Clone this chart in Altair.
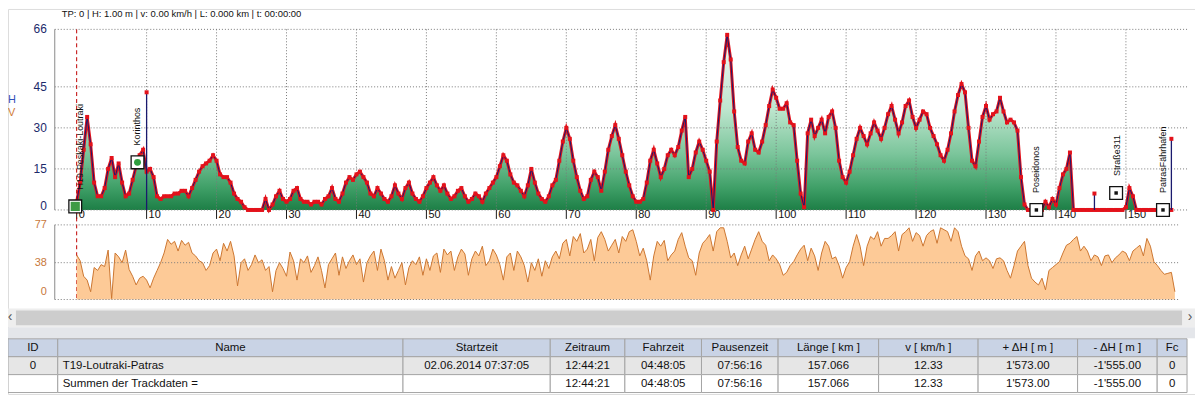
import altair as alt
import numpy as np
import pandas as pd

# ---------------- data ----------------
TOP_TEXT = "TP: 0 | H: 1.00 m | v: 0.00 km/h | L: 0.000 km | t: 00:00:00"

STEP_KM = 0.5
# elevation [m], every 0.5 km from km 0
ELEV = [
    3, 10, 22, 34, 24, 10, 5, 5, 8, 15, 19, 12, 17, 10, 5, 6, 11, 16, 20, 22,
    14, 15, 12, 5, 4, 5, 5, 5, 6, 6, 7, 7, 5, 8, 11, 14, 16, 17, 18, 20,
    18, 13, 12, 12, 10, 6, 4, 3, 1, 0, 0, 0, 0, 0, 4, 0, 2, 5, 7, 4,
    3, 4, 7, 8, 4, 3, 3, 2, 3, 3, 2, 4, 5, 8, 4, 3, 6, 10, 12, 11,
    13, 14, 12, 10, 6, 5, 8, 6, 4, 3, 5, 9, 6, 4, 8, 10, 6, 4, 3, 5,
    8, 10, 12, 9, 7, 9, 6, 4, 5, 7, 8, 5, 3, 4, 6, 5, 3, 6, 8, 10,
    12, 16, 20, 18, 13, 10, 9, 7, 5, 9, 15, 10, 6, 4, 3, 5, 9, 11, 18, 25,
    30, 26, 18, 12, 7, 4, 5, 11, 14, 12, 7, 14, 22, 27, 31, 26, 20, 14, 9, 5,
    3, 3, 4, 10, 18, 22, 17, 12, 15, 20, 22, 20, 23, 29, 34, 12, 15, 21, 25, 22,
    18, 14, 0, 25, 40, 54, 64, 55, 36, 23, 18, 17, 25, 28, 22, 21, 25, 31, 38, 44,
    41, 37, 37, 39, 32, 31, 18, 6, 1, 28, 33, 27, 30, 33, 28, 34, 36, 30, 18, 12,
    10, 14, 20, 26, 30, 27, 24, 28, 32, 29, 26, 30, 35, 38, 33, 28, 32, 38, 40, 34,
    30, 33, 36, 35, 30, 27, 24, 20, 18, 22, 28, 36, 42, 46, 43, 30, 18, 16, 25, 34,
    38, 33, 35, 36, 41, 36, 32, 33, 32, 29, 12, 2, 0, 0, 0, 0, 0, 3, 1, 4,
    2, 8, 13, 15, 21, 0, 0, 0, 0, 0, 0, 0, 0, 0, 0, 0, 0, 0, 0, 0,
    1, 8, 5, 0, 0, 0, 0, 0, 0, 0, 0, 0, 0, 0,
]
# isolated spikes of the elevation track
SPIKE_KM = [10.0, 145.5, 156.5]
SPIKE_H = [43, 6, 26]

# speed [km/h], every 0.5 km from km 0
SPEED = [
    46, 40, 24, 20, 8, 33, 30, 36, 34, 51, 1, 48, 44, 38, 51, 31, 24, 15, 22, 24,
    20, 12, 22, 30, 38, 48, 62, 57, 60, 50, 61, 56, 59, 48, 45, 40, 38, 30, 35, 48,
    52, 40, 58, 50, 60, 45, 14, 38, 42, 30, 36, 46, 38, 41, 30, 34, 8, 30, 38, 32,
    24, 49, 40, 20, 42, 38, 45, 28, 35, 44, 30, 12, 36, 42, 48, 25, 44, 32, 40, 46,
    36, 42, 18, 38, 45, 50, 30, 52, 40, 20, 34, 22, 30, 38, 15, 33, 40, 36, 44, 25,
    42, 30, 45, 48, 28, 52, 46, 50, 30, 44, 52, 47, 25, 42, 50, 45, 55, 35, 40, 52,
    46, 36, 20, 44, 48, 30, 50, 44, 35, 18, 38, 30, 42, 24, 40, 32, 44, 50, 42, 58,
    62, 45, 65, 60, 68, 48, 52, 62, 40, 64, 70, 62, 50, 56, 62, 48, 65, 60, 70, 72,
    60, 45, 53, 40, 20, 45, 60, 55, 61, 40, 46, 50, 62, 69, 55, 43, 40, 25, 48, 58,
    62, 67, 50, 70, 74, 74, 60, 43, 48, 35, 46, 55, 42, 52, 62, 70, 60, 56, 40, 46,
    42, 36, 25, 28, 35, 39, 46, 52, 56, 40, 53, 45, 30, 48, 60, 55, 42, 44, 35, 22,
    33, 39, 55, 67, 55, 35, 55, 65, 62, 70, 55, 63, 63, 66, 70, 50, 67, 70, 74, 60,
    69, 66, 55, 66, 70, 72, 58, 74, 72, 70, 60, 74, 70, 55, 45, 42, 30, 45, 50, 40,
    43, 40, 32, 42, 43, 40, 30, 22, 35, 50, 55, 60, 35, 22, 18, 15, 22, 10, 30, 33,
    36, 39, 48, 56, 58, 62, 65, 50, 55, 50, 40, 46, 44, 35, 45, 46, 38, 43, 46, 50,
    48, 40, 50, 53, 56, 45, 63, 55, 39, 35, 30, 26, 27, 28, 8,
]

# waypoints
WP_NAME = ["H19-Peskaki-Loutraki", "Korinthos", "Poseidonos", "Straße311", "PatrasFährhafen"]
WP_KM = [-0.2, 8.7, 137.2, 148.6, 155.3]
WP_H = [1.3, 17.4, 0.0, 6.2, 0.0]
WP_KIND = ["start", "dot", "stop", "stop", "stop"]
LABEL_KM = [0.43, 8.58, 137.2, 148.7, 155.3]

ELEV_TICKS = [0, 15, 30, 45, 66]
SPEED_TICKS = [0, 38, 77]
KM_TICKS = list(range(0, 151, 10))

HEADERS = ["ID", "Name", "Startzeit", "Zeitraum", "Fahrzeit", "Pausenzeit",
           "Länge  [ km ]", "v  [ km/h ]", "+ ΔH  [ m ]", "- ΔH  [ m ]", "Fc"]
ROW1 = ["0", "T19-Loutraki-Patras", "02.06.2014 07:37:05", "12:44:21", "04:48:05",
        "07:56:16", "157.066", "12.33", "1'573.00", "-1'555.00", "0"]
ROW2 = ["", "Summen der Trackdaten =", "", "12:44:21", "04:48:05", "07:56:16",
        "157.066", "12.33", "1'573.00", "-1'555.00", "0"]

# ---------------- layout (pixels inside the chart) ----------------
W, H = 1193, 387
X_DOMAIN = [-3.13, 157.6]
X_RANGE = [47, 1177]
YE_RANGE = [202, 20.5]
YV_RANGE = [292, 217]
AXIS_X = 47
COL_EDGES = [0, 50, 397, 545, 620, 697, 774, 875, 975, 1075, 1155, 1185]
ROW_EDGES = [331.5, 349.5, 367.5, 385.5]
ROW_KIND = ["header", "row1", "row2"]

FONT = "Liberation Sans, Arial, sans-serif"
NAVY = "#1a1a6e"
RED = "#e3121b"
GRID = "#7a7a7a"

XS = alt.Scale(domain=X_DOMAIN, range=X_RANGE, nice=False, zero=False)
YE = alt.Scale(domain=[0, 66], range=YE_RANGE, nice=False, zero=False)
YV = alt.Scale(domain=[0, 77], range=YV_RANGE, nice=False, zero=False)


def X(field):
    return alt.X(field, scale=XS, axis=None)


def YEl(field):
    return alt.Y(field, scale=YE, axis=None)


def YSp(field):
    return alt.Y(field, scale=YV, axis=None)


elev_df = pd.DataFrame({"km": np.arange(len(ELEV)) * STEP_KM, "h": ELEV})
speed_df = pd.DataFrame({"km": np.arange(len(SPEED)) * STEP_KM, "v": SPEED})
spike_df = pd.DataFrame({"km": SPIKE_KM, "h": SPIKE_H})
wp_df = pd.DataFrame({"km": WP_KM, "h": WP_H, "kind": WP_KIND, "name": WP_NAME, "lkm": LABEL_KM})
eg_df = pd.DataFrame({"h": ELEV_TICKS, "lab": [str(t) for t in ELEV_TICKS]})
kt_df = pd.DataFrame({"km": KM_TICKS, "lab": [str(t) for t in KM_TICKS]})
sg_df = pd.DataFrame({"v": SPEED_TICKS, "lab": [str(t) for t in SPEED_TICKS]})
zero_df = pd.DataFrame({"km": [0.0]})
one = pd.DataFrame({"a": [0]})

green_grad = alt.Gradient(
    gradient="linear",
    stops=[alt.GradientStop(color="#f2faf5", offset=0),
           alt.GradientStop(color="#bfe6cf", offset=0.42),
           alt.GradientStop(color="#7bc59b", offset=0.68),
           alt.GradientStop(color="#40a068", offset=0.87),
           alt.GradientStop(color="#1d7f46", offset=1)],
    x1=1, x2=1, y1=0, y2=1)

# ---------------- elevation panel ----------------
e_area = alt.Chart(elev_df).mark_area(color=green_grad, interpolate="linear").encode(
    x=X("km:Q"), y=YEl("h:Q"))
e_hgrid = alt.Chart(eg_df).mark_rule(color=GRID, strokeDash=[1, 2], strokeWidth=1).encode(
    y=YEl("h:Q"), x=alt.value(AXIS_X), x2=alt.value(X_RANGE[1] + 8))
e_vgrid = alt.Chart(kt_df[kt_df.km > 0]).mark_rule(color=GRID, strokeDash=[1, 2], strokeWidth=1).encode(
    x=X("km:Q"), y=alt.value(YE_RANGE[1]), y2=alt.value(YE_RANGE[0]))
e_dom = alt.Chart(one).mark_rule(color="#8a8a8a", strokeWidth=1).encode(
    x=alt.value(AXIS_X), y=alt.value(YE_RANGE[1]), y2=alt.value(YE_RANGE[0]))
e_lab = alt.Chart(eg_df[eg_df.h > 0]).mark_text(
    align="right", baseline="middle", fontSize=12, font=FONT, color="#1b2a6b").encode(
    x=alt.value(AXIS_X - 8), y=YEl("h:Q"), text="lab:N")
e_lab0 = alt.Chart(eg_df[eg_df.h == 0]).mark_text(
    align="right", baseline="middle", fontSize=12, font=FONT, color="#1b2a6b", dy=-4).encode(
    x=alt.value(AXIS_X - 8), y=YEl("h:Q"), text="lab:N")
x_ticks = alt.Chart(kt_df).mark_rule(color="#1a1a1a", strokeWidth=1).encode(
    x=X("km:Q"), y=alt.value(YE_RANGE[0]), y2=alt.value(YE_RANGE[0] + 9))
x_labs = alt.Chart(kt_df).mark_text(
    align="left", baseline="middle", dx=2, fontSize=11, font=FONT, color="#111111").encode(
    x=X("km:Q"), y=alt.value(YE_RANGE[0] + 5), text="lab:N")
e_redline = alt.Chart(elev_df).mark_line(color=RED, strokeWidth=3).encode(
    x=X("km:Q"), y=YEl("h:Q"))
e_line = alt.Chart(elev_df).mark_line(color=NAVY, strokeWidth=1).encode(
    x=X("km:Q"), y=YEl("h:Q"))
e_pts = alt.Chart(elev_df).mark_square(color=RED, size=16, opacity=1).encode(
    x=X("km:Q"), y=YEl("h:Q"))
s_rules = alt.Chart(spike_df).mark_rule(color=NAVY, strokeWidth=1.3).encode(
    x=X("km:Q"), y=YEl("h:Q"), y2=alt.Y2(datum=0))
s_pts = alt.Chart(spike_df).mark_square(color=RED, size=16, opacity=1).encode(
    x=X("km:Q"), y=YEl("h:Q"))
red_line = alt.Chart(zero_df).mark_rule(color="#c00000", strokeDash=[4, 3], strokeWidth=1).encode(
    x=X("km:Q"), y=alt.value(YE_RANGE[1]), y2=alt.value(YV_RANGE[0]))
wp_outer = alt.Chart(wp_df).mark_square(size=165, fill="white", stroke="#111111",
                                        strokeWidth=1.3, opacity=1, filled=True).encode(
    x=X("km:Q"), y=YEl("h:Q"))
wp_inner = alt.Chart(wp_df).mark_point(filled=True, opacity=1).encode(
    x=X("km:Q"), y=YEl("h:Q"),
    color=alt.Color("kind:N", scale=alt.Scale(domain=["start", "dot", "stop"],
                                              range=["#3f9b45", "#2e9e3e", "#111111"]), legend=None),
    size=alt.Size("kind:N", scale=alt.Scale(domain=["start", "dot", "stop"], range=[85, 12, 26]), legend=None),
    shape=alt.Shape("kind:N", scale=alt.Scale(domain=["start", "dot", "stop"],
                                              range=["square", "circle", "square"]), legend=None),
)
wp_text = alt.Chart(wp_df).mark_text(angle=270, align="left", baseline="middle", dx=17,
                                     fontSize=9, font=FONT, color="#111111").encode(
    x=alt.X("lkm:Q", scale=XS, axis=None), y=YEl("h:Q"), text="name:N")

elev = alt.layer(e_area, e_hgrid, e_vgrid, e_dom, e_lab, e_lab0, x_ticks, x_labs,
                 e_redline, e_line, e_pts, s_rules, s_pts,
                 red_line, wp_outer, wp_inner, wp_text)

# ---------------- speed panel ----------------
v_area = alt.Chart(speed_df).mark_area(color="#fdca97", opacity=1).encode(
    x=X("km:Q"), y=YSp("v:Q"))
v_grid = alt.Chart(sg_df).mark_rule(color=GRID, strokeDash=[1, 2], strokeWidth=1).encode(
    y=YSp("v:Q"), x=alt.value(AXIS_X), x2=alt.value(X_RANGE[1]))
v_line = alt.Chart(speed_df).mark_line(color="#cc7630", strokeWidth=1).encode(
    x=X("km:Q"), y=YSp("v:Q"))
v_dom = alt.Chart(one).mark_rule(color="#8a8a8a", strokeWidth=1).encode(
    x=alt.value(AXIS_X), y=alt.value(YV_RANGE[1]), y2=alt.value(YV_RANGE[0]))
v_lab = alt.Chart(sg_df[sg_df.v > 0]).mark_text(
    align="right", baseline="middle", fontSize=11, font=FONT, color="#c8783a").encode(
    x=alt.value(AXIS_X - 8), y=YSp("v:Q"), text="lab:N")
v_lab0 = alt.Chart(sg_df[sg_df.v == 0]).mark_text(
    align="right", baseline="middle", fontSize=11, font=FONT, color="#c8783a", dy=-8).encode(
    x=alt.value(AXIS_X - 8), y=YSp("v:Q"), text="lab:N")
speed = alt.layer(v_area, v_grid, v_line, v_dom, v_lab, v_lab0)

# ---------------- misc texts ----------------
top_txt = alt.Chart(pd.DataFrame({"t": [TOP_TEXT]})).mark_text(
    align="left", baseline="middle", fontSize=9.5, font=FONT, color="#111111").encode(
    x=alt.value(54), y=alt.value(5), text="t:N")
hv_lbl = alt.Chart(pd.DataFrame({"t": ["H", "V"], "y": [91, 105], "c": ["H", "V"]})).mark_text(
    align="left", baseline="middle", fontSize=11, font=FONT).encode(
    x=alt.value(0), y=alt.Y("y:Q", scale=None), text="t:N",
    color=alt.Color("c:N", scale=alt.Scale(domain=["H", "V"], range=["#2f50b8", "#d07a35"]), legend=None))

# ---------------- scrollbar ----------------
sb_track = alt.Chart(one).mark_rect(color="#eeeeee").encode(
    x=alt.value(0), x2=alt.value(W), y=alt.value(301), y2=alt.value(320))
sb_thumb = alt.Chart(one).mark_rect(color="#cdcdcd").encode(
    x=alt.value(8), x2=alt.value(1180), y=alt.value(303), y2=alt.value(318))
sb_band = alt.Chart(one).mark_rect(color="#e4e6ea").encode(
    x=alt.value(0), x2=alt.value(W), y=alt.value(320), y2=alt.value(331))
arrows = alt.Chart(pd.DataFrame({"t": ["‹", "›"], "x": [2, 1188]})).mark_text(
    align="center", baseline="middle", fontSize=14, font=FONT, color="#555555").encode(
    x=alt.X("x:Q", scale=None), y=alt.value(310), text="t:N")

# ---------------- table ----------------
cells = []
for r, row in enumerate([HEADERS, ROW1, ROW2]):
    for c, txt in enumerate(row):
        cells.append(dict(x0=COL_EDGES[c], x1=COL_EDGES[c + 1],
                          y0=ROW_EDGES[r], y1=ROW_EDGES[r + 1],
                          xc=(COL_EDGES[c] + COL_EDGES[c + 1]) / 2, xl=COL_EDGES[c] + 5,
                          yc=(ROW_EDGES[r] + ROW_EDGES[r + 1]) / 2,
                          text=txt, kind=ROW_KIND[r], left=bool(c == 1 and r > 0)))
cells_df = pd.DataFrame(cells)

t_rect = alt.Chart(cells_df).mark_rect(stroke="#a4a4a4", strokeWidth=1).encode(
    x=alt.X("x0:Q", scale=None), x2="x1:Q", y=alt.Y("y0:Q", scale=None), y2="y1:Q",
    fill=alt.Fill("kind:N", scale=alt.Scale(domain=ROW_KIND, range=["#c9d3e5", "#e6e6e6", "#ffffff"]),
                  legend=None))
t_text_c = alt.Chart(cells_df).transform_filter("!datum.left").mark_text(
    align="center", baseline="middle", fontSize=11.5, font=FONT, color="#111111").encode(
    x=alt.X("xc:Q", scale=None), y=alt.Y("yc:Q", scale=None), text="text:N")
t_text_l = alt.Chart(cells_df).transform_filter("datum.left").mark_text(
    align="left", baseline="middle", fontSize=11.5, font=FONT, color="#111111").encode(
    x=alt.X("xl:Q", scale=None), y=alt.Y("yc:Q", scale=None), text="text:N")

chart = alt.layer(
    elev, speed, top_txt, hv_lbl, sb_track, sb_thumb, sb_band, arrows,
    t_rect, t_text_c, t_text_l,
).resolve_scale(
    x="independent", y="independent", color="independent", fill="independent",
    size="independent", shape="independent",
).properties(
    width=W, height=H, padding=0, autosize=alt.AutoSizeParams(type="none"),
).configure_view(stroke=None).configure(background="#ffffff")

chart.save("out.html", embed_options={"renderer": "svg", "actions": False})
